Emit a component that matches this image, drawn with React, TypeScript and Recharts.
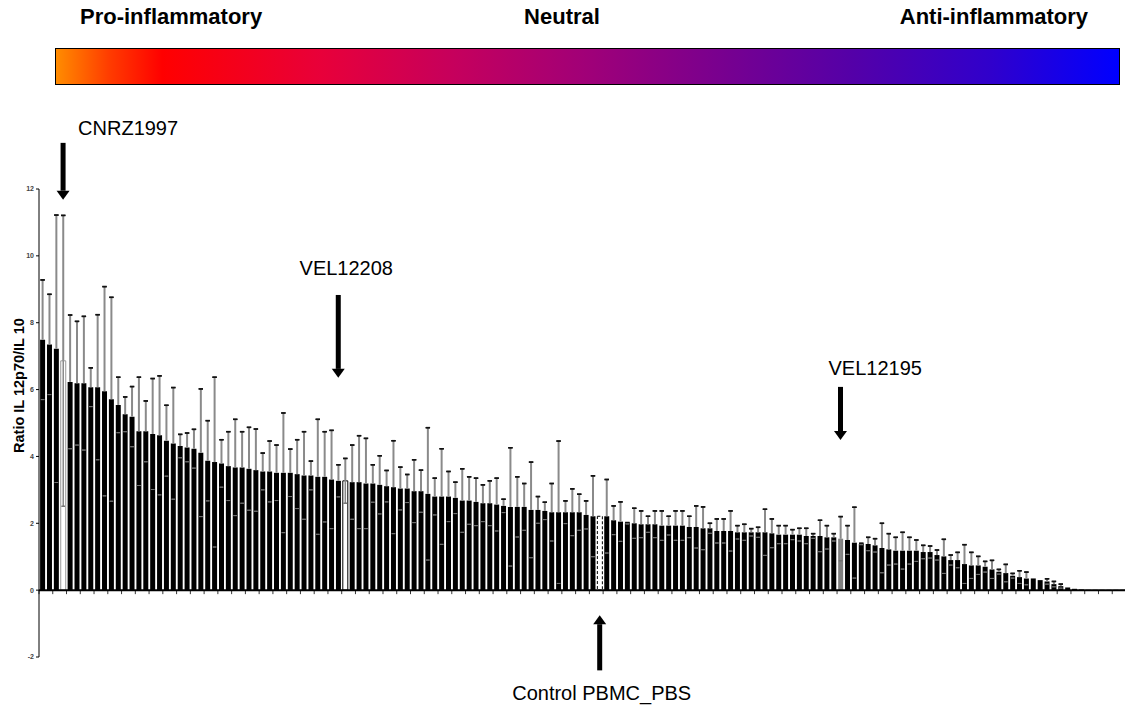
import { BarChart, Bar, XAxis, YAxis, Cell, ErrorBar, ReferenceLine, ReferenceDot, Label } from 'recharts'

// IL-12p70 / IL-10 ratio per strain, sorted
const values = [
  7.49, 7.35, 7.22, 6.86, 6.23, 6.19, 6.19, 6.07, 6.07, 5.95,
  5.71, 5.54, 5.26, 5.19, 4.75, 4.75, 4.67, 4.63, 4.47, 4.39,
  4.31, 4.27, 4.23, 4.11, 3.87, 3.83, 3.79, 3.71, 3.67, 3.67,
  3.63, 3.59, 3.55, 3.55, 3.51, 3.51, 3.51, 3.47, 3.43, 3.43,
  3.39, 3.39, 3.31, 3.27, 3.27, 3.23, 3.23, 3.19, 3.19, 3.15,
  3.11, 3.08, 3.04, 3.04, 2.96, 2.96, 2.88, 2.8, 2.8, 2.8,
  2.76, 2.68, 2.68, 2.64, 2.6, 2.6, 2.56, 2.52, 2.49, 2.49,
  2.49, 2.4, 2.4, 2.37, 2.33, 2.33, 2.33, 2.33, 2.33, 2.25,
  2.21, 2.21, 2.21, 2.09, 2.05, 2.0, 2.0, 1.97, 1.97, 1.97,
  1.93, 1.93, 1.93, 1.93, 1.89, 1.89, 1.85, 1.85, 1.77, 1.77,
  1.77, 1.73, 1.73, 1.73, 1.73, 1.73, 1.7, 1.66, 1.66, 1.66,
  1.66, 1.62, 1.62, 1.62, 1.58, 1.58, 1.54, 1.5, 1.42, 1.38,
  1.38, 1.34, 1.26, 1.22, 1.18, 1.18, 1.18, 1.18, 1.14, 1.14,
  1.05, 1.01, 0.9, 0.9, 0.78, 0.74, 0.74, 0.7, 0.62, 0.55,
  0.51, 0.43, 0.39, 0.35, 0.35, 0.3, 0.26, 0.18, 0.12, 0.08,
  0.04, 0.02, 0.01, 0.01, 0.01, 0.01, 0.01, 0.01,
]

// standard deviations (symmetric)
const errors = [
  1.79, 1.5, 4.0, 4.35, 2.0, 1.85, 2.0, 0.58, 2.17, 3.13,
  3.05, 0.83, 0.52, 0.9, 1.62, 0.91, 1.66, 1.78, 1.06, 1.67,
  0.35, 0.43, 0.58, 1.91, 1.2, 2.54, 0.71, 1.03, 1.44, 1.07,
  1.24, 1.23, 0.55, 0.91, 0.83, 1.79, 0.71, 1.03, 1.31, 0.43,
  1.72, 1.35, 1.47, 0.48, 0.67, 1.11, 1.39, 1.35, 0.56, 0.87,
  0.47, 1.39, 0.64, 0.42, 0.94, 0.63, 1.98, 0.55, 1.43, 0.75,
  0.47, 0.95, 0.71, 0.71, 0.55, 0.67, 0.79, 0.2, 1.77, 0.9,
  0.7, 1.43, 0.4, 0.26, 0.86, 2.13, 0.34, 0.7, 0.54, 0.42,
  1.21, 0, 1.1, 0.43, 0.59, 0.02, 0.45, 0.4, 0.24, 0.4,
  0.44, 0.28, 0.44, 0.44, 0.32, 0.63, 0.64, 0.15, 0.36, 0.36,
  0.6, 0.2, 0.24, 0.11, 0.15, 0.69, 0.43, 0.27, 0.27, 0.15,
  0.19, 0.23, 0.07, 0.47, 0.35, 0.11, 0.66, 0.43, 1.06, 0.02,
  0.2, 0.2, 0.74, 0.47, 0.4, 0.55, 0.4, 0.32, 0.2, 0.18,
  0.15, 0.51, 0.15, 0.23, 0.58, 0.39, 0.27, 0.16, 0.27, 0.07,
  0.26, 0.07, 0.19, 0.19, 0, 0, 0.08, 0.08, 0.06, 0,
  0, 0, 0, 0, 0, 0, 0, 0,
]

// highlighted strains: position in the ranking and bar style
const namedStrains: Record<number, string> = {
  3: 'CNRZ1997',
  44: 'VEL12208',
  81: 'Control PBMC_PBS',
  116: 'VEL12195',
}
const barStyle: Record<number, 'open' | 'openDark' | 'dashed' | 'grey'> = {
  3: 'open',
  44: 'openDark',
  81: 'dashed',
  116: 'grey',
}

const strains = values.map((_, i) => namedStrains[i] ?? `strain ${i + 1}`)

// arrows: category index, tail value, tip value, text value
const noteText = ['CNRZ1997', 'VEL12208', 'VEL12195', 'Control PBMC_PBS']
const noteIndex = [3, 43, 116, 81]
const noteTail = [13.38, 8.83, 6.08, -2.4]
const noteTip = [11.68, 6.35, 4.49, -0.75]
const noteTextY = [13.83, 9.64, 6.65, -3.08]
const noteAnchor = ['start', 'middle', 'start', 'middle']
const noteDx = [15, 8, -12, 2]

const yTicks = [-2, 0, 2, 4, 6, 8, 10, 12]

const data = strains.map((name, i) => ({ name, ratio: values[i], sd: errors[i] }))

const FONT = '"Liberation Sans", Arial, sans-serif'

const ZeroAxis = (props: any) => {
  const { x1, x2, y1 } = props
  const step = ((x2 - x1) / values.length) * 2
  const ticks: number[] = []
  for (let t = x1; t <= x2 + 0.5; t += step) ticks.push(t)
  return (
    <g>
      <line x1={x1} x2={x2} y1={y1} y2={y1} stroke="#000" strokeWidth={2} />
      {ticks.map((t, i) => (
        <line key={i} x1={t} x2={t} y1={y1} y2={y1 + 4} stroke="#000" strokeWidth={0.8} />
      ))}
    </g>
  )
}

const Arrow = (props: any) => {
  const { x1, y1, y2 } = props
  const dir = y2 > y1 ? 1 : -1
  const headLen = 9
  const headHalf = 6.5
  const neck = y2 - dir * headLen
  return (
    <g>
      <line x1={x1} y1={y1} x2={x1} y2={neck} stroke="#000" strokeWidth={5} />
      <polygon points={`${x1 - headHalf},${neck} ${x1 + headHalf},${neck} ${x1},${y2}`} fill="#000" />
    </g>
  )
}

const renderYLabel = (props: any) => {
  const { viewBox } = props
  const cx = viewBox.x + 19
  const cy = viewBox.y + viewBox.height * 0.42
  return (
    <text
      x={cx}
      y={cy}
      transform={`rotate(-90 ${cx} ${cy})`}
      textAnchor="middle"
      dominantBaseline="central"
      fontFamily={FONT}
      fontWeight="bold"
      fontSize={14.5}
      fill="#000"
    >
      Ratio IL 12p70/IL 10
    </text>
  )
}

const fillFor = (i: number) => {
  const s = barStyle[i]
  if (s === 'open' || s === 'openDark' || s === 'dashed') return '#fff'
  if (s === 'grey') return '#808080'
  return '#000'
}

const strokeFor = (i: number) => {
  const s = barStyle[i]
  if (s === 'open') return '#999'
  if (s === 'openDark' || s === 'dashed') return '#000'
  return 'none'
}

export default function App() {
  return (
    <div style={{ position: 'absolute', left: 0, top: 0, width: 1125, height: 708, overflow: 'hidden', background: '#fff', fontFamily: FONT }}>
      <div style={{ position: 'absolute', left: 80, top: 5, fontSize: 22, fontWeight: 'bold', lineHeight: '24px' }}>
        Pro-inflammatory
      </div>
      <div style={{ position: 'absolute', left: 462, width: 200, textAlign: 'center', top: 5, fontSize: 22, fontWeight: 'bold', lineHeight: '24px' }}>
        Neutral
      </div>
      <div style={{ position: 'absolute', right: 37, top: 5, fontSize: 22, fontWeight: 'bold', lineHeight: '24px' }}>
        Anti-inflammatory
      </div>
      <div
        style={{
          position: 'absolute',
          left: 55,
          top: 48,
          width: 1065,
          height: 37,
          boxSizing: 'border-box',
          border: '1px solid #000',
          background:
            'linear-gradient(to right, #ff8c00 0%, #ff3c00 5%, #ff0000 10%, #e8003a 25%, #c4005e 38%, #a00078 50%, #7a008e 62%, #5400a8 75%, #3000cc 88%, #0000ff 100%)',
        }}
      />
      <div style={{ position: 'absolute', left: 0, top: 0 }}>
        <BarChart
          width={1126}
          height={708}
          data={data}
          margin={{ top: 189, right: 0, bottom: 51, left: 0 }}
          barCategoryGap="16%"
        >
          <XAxis dataKey="name" hide />
          <YAxis
            domain={[-2, 12]}
            ticks={yTicks}
            allowDataOverflow
            width={39}
            tickSize={3}
            axisLine={{ stroke: '#000', strokeWidth: 1 }}
            tickLine={{ stroke: '#000' }}
            tick={{ fontSize: 7, fontWeight: 'bold', fill: '#444', fontFamily: FONT }}
          >
            <Label content={renderYLabel} />
          </YAxis>
          <Bar dataKey="ratio" isAnimationActive={false}>
            {data.map((d, i) => (
              <Cell
                key={d.name}
                fill={fillFor(i)}
                stroke={strokeFor(i)}
                strokeWidth={1}
                strokeDasharray={barStyle[i] === 'dashed' ? '3 2' : undefined}
              />
            ))}
            {/* error line through open bars, down to the lower cap */}
            <ErrorBar
              dataKey={(d: any) => (barStyle[strains.indexOf(d.name)] && d.sd ? [d.sd, 0] : null)}
              direction="y"
              width={0}
              stroke="#8a8a8a"
              strokeWidth={1.5}
              isAnimationActive={false}
            />
            {/* upper whisker */}
            <ErrorBar
              dataKey={(d: any) => (d.sd ? [0, d.sd] : null)}
              direction="y"
              width={0}
              stroke="#8a8a8a"
              strokeWidth={2}
              isAnimationActive={false}
            />
            {/* upper cap */}
            <ErrorBar
              dataKey={(d: any) => (d.sd ? [-d.sd, d.sd] : null)}
              direction="y"
              width={2.2}
              stroke="#111"
              strokeWidth={1.5}
              isAnimationActive={false}
            />
            {/* lower cap */}
            <ErrorBar
              dataKey={(d: any) => (d.sd ? [d.sd, -d.sd] : null)}
              direction="y"
              width={1.8}
              stroke="#707070"
              strokeWidth={1}
              isAnimationActive={false}
            />
          </Bar>
          <ReferenceLine y={0} shape={ZeroAxis} />
          {noteText.map((t, k) => (
            <ReferenceLine
              key={t}
              ifOverflow="visible"
              segment={[
                { x: strains[noteIndex[k]], y: noteTail[k] },
                { x: strains[noteIndex[k]], y: noteTip[k] },
              ]}
              shape={Arrow}
            />
          ))}
          {noteText.map((t, k) => (
            <ReferenceDot
              key={`t-${t}`}
              x={strains[noteIndex[k]]}
              y={noteTextY[k]}
              r={0}
              ifOverflow="visible"
              shape={(p: any) => (
                <text
                  x={p.cx + noteDx[k]}
                  y={p.cy}
                  textAnchor={noteAnchor[k] as any}
                  dominantBaseline="central"
                  fontFamily={FONT}
                  fontSize={20}
                  fill="#000"
                >
                  {t}
                </text>
              )}
            />
          ))}
        </BarChart>
      </div>
    </div>
  )
}
